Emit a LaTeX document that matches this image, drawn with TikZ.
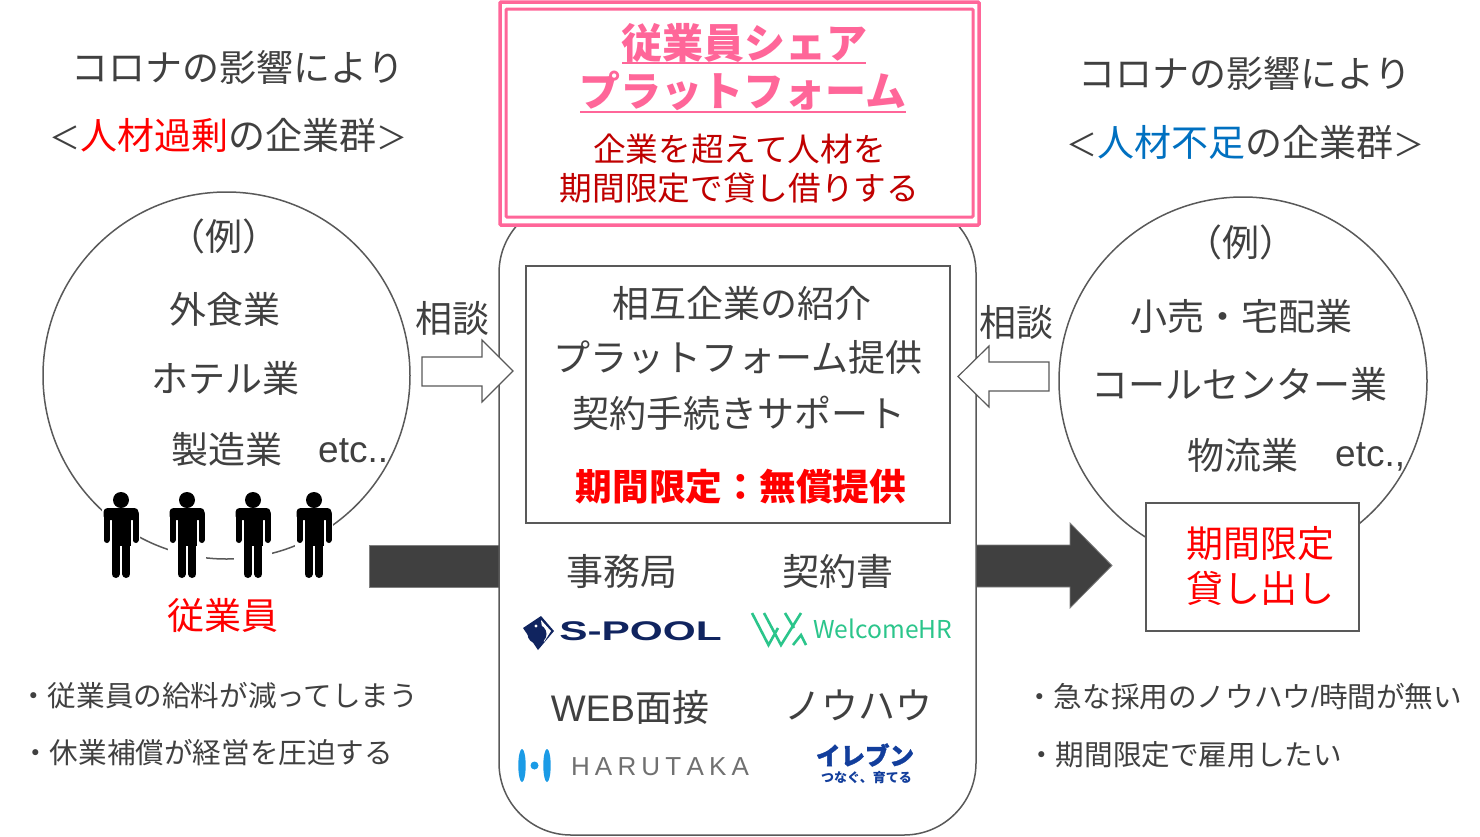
\documentclass[tikz,border=0pt]{standalone}
\usepackage{fontspec}
\setmainfont{Noto Sans CJK JP}
\newfontfamily\latinfont{Liberation Sans}
\usetikzlibrary{calc}
\newcommand{\fullless}{{\fontsize{31}{31}\selectfont\symbol{"FF1C}}}
\newcommand{\fullmore}{{\fontsize{31}{31}\selectfont\symbol{"FF1E}}}
\newcommand{\fullopen}{\symbol{"FF08}}
\newcommand{\fullclose}{\symbol{"FF09}}
\newcommand{\fullcolon}{\symbol{"FF1A}}
\definecolor{darktext}{HTML}{404040}
\definecolor{linegray}{HTML}{595959}
\definecolor{sharepink}{HTML}{FF6699}
\definecolor{darkred}{HTML}{C00000}
\definecolor{shortblue}{HTML}{0070C0}
\definecolor{poolnavy}{HTML}{10245F}
\definecolor{welcomegreen}{HTML}{2BC58B}
\definecolor{harublue}{HTML}{1B9BE6}
\definecolor{elevenblue}{HTML}{123E9C}
\tikzset{
	label36/.style={inner sep=0pt,text=darktext,font=\fontsize{37}{37}\selectfont},
	label33/.style={inner sep=0pt,text=darkred,font=\fontsize{32.7}{32.7}\selectfont},
	label28/.style={inner sep=0pt,anchor=west,text=darktext,font=\fontsize{28.6}{28.6}\selectfont},
	title41/.style={inner sep=0pt,text=sharepink,font=\fontsize{41}{41}\selectfont\bfseries},
	hollowarrow/.style={draw=linegray,fill=white,line width=1.2pt},
	darkarrow/.style={fill=darktext,draw=gray,line width=0.8pt},
	person/.pic={
		\fill [white] (-19,-10) rectangle (19,80);
		\fill [black] (0,0) circle (8);
		\fill [black,rounded corners=4pt] (-17.5,8) rectangle (17.5,20);
		\fill [black] (-9.5,12) rectangle (9.5,46);
		\draw [black,line width=6pt,line cap=round] (-14.5,14) -- (-14.5,40) (14.5,14) -- (14.5,40);
		\draw [black,line width=8pt,line cap=round] (-5.4,40) -- (-5.4,74) (5.4,40) -- (5.4,74);
	}
}
\begin{document}
\begin{tikzpicture}[x=1pt,y=-1pt]
	\useasboundingbox (0,0) rectangle (1480,836);
	% circles
	\draw [linegray,line width=1.5pt] (226.5,375.5) circle (183.5);
	\draw [linegray,line width=1.5pt] (1243,381) circle (184);
	% dark arrows
	\draw [darkarrow] (369,545) -- (510,545) -- (510,587) -- (369,587) -- cycle;
	\draw [darkarrow] (965,545) -- (1070,545) -- (1070,523) -- (1112,565.5) -- (1070,608) -- (1070,587) -- (965,587) -- cycle;
	% platform
	\draw [linegray,fill=white,line width=1.5pt,rounded corners=72pt] (499,201) rectangle (976,835);
	\draw [line width=1.4pt,draw=linegray,fill=white] (526,266) rectangle (950,523);
	\draw [sharepink,fill=white,line width=3.5pt,rounded corners=1pt] (500,2) rectangle (979,225);
	\draw [sharepink,line width=3pt,rounded corners=1pt] (506,9) rectangle (973,217);
	% hollow arrows
	\draw [hollowarrow] (422,357) -- (482,357) -- (482,340) -- (513,371) -- (482,402) -- (482,386) -- (422,386) -- cycle;
	\draw [hollowarrow] (1049,362) -- (989,362) -- (989,346) -- (958,376.5) -- (989,407) -- (989,391) -- (1049,391) -- cycle;
	% persons
	\pic at (121,500) {person};
	\pic at (187,500) {person};
	\pic at (253,500) {person};
	\pic at (314,500) {person};
	% left side
	\node [label36] (leftfirst) at (238,67) {コロナの影響により};
	\node [label36] (leftgroup) at (228,135) {\fullless\textcolor{red}{人材過剰}の企業群\fullmore};
	\node [label36] (leftexample) at (224,236) {\fullopen 例\fullclose};
	\node [label36] (leftfood) at (225,309) {外食業};
	\node [label36] (lefthotel) at (225,378) {ホテル業};
	\node [label36] (leftmake) at (227,449) {製造業};
	\node [label36,anchor=west] (leftetc) at (318,451) {\latinfont etc..};
	\node [label36,text=red] (leftstaff) at (223,615) {従業員};
	\node [label28] (leftnotea) at (19,696) {・従業員の給料が減ってしまう};
	\node [label28] (leftnoteb) at (21,753) {・休業補償が経営を圧迫する};
	\node [label36] (leftsoudan) at (452,318) {相談};
	% right side
	\node [label36] (rightfirst) at (1245,73) {コロナの影響により};
	\node [label36] (rightgroup) at (1245,142) {\fullless\textcolor{shortblue}{人材不足}の企業群\fullmore};
	\node [label36] (rightexample) at (1241,242) {\fullopen 例\fullclose};
	\node [label36] (rightshop) at (1241,316) {小売・宅配業};
	\node [label36] (rightcall) at (1239,384) {コールセンター業};
	\node [label36] (rightflow) at (1243,455) {物流業};
	\node [label36,anchor=west] (rightetc) at (1335,457) {\latinfont etc.,};
	\node [label36] (rightsoudan) at (1016,322) {相談};
	\draw [line width=1.4pt,draw=linegray,fill=white] (1146,503) rectangle (1359,631);
	\node [label36,text=red] (rightlimit) at (1260,544) {期間限定};
	\node [label36,text=red] (rightlend) at (1260,588) {貸し出し};
	\node [label28] (rightnotea) at (1025,697) {・急な採用のノウハウ\latinfont/\normalfont 時間が無い};
	\node [label28] (rightnoteb) at (1027,755) {・期間限定で雇用したい};
	% top box
	\node [title41] (titleone) at (744,43) {従業員シェア};
	\node [title41] (titletwo) at (743,91) {プラットフォーム};
	\draw [sharepink,line width=1.2pt] (622,63) -- (866,63);
	\draw [sharepink,line width=1.2pt] (580,112) -- (906,112);
	\node [label33] (subone) at (739.5,149) {企業を超えて人材を};
	\node [label33] (subtwo) at (739.5,188) {期間限定で貸し借りする};
	% middle box
	\node [label36] (boxone) at (742,303) {相互企業の紹介};
	\node [label36] (boxtwo) at (738,357) {プラットフォーム提供};
	\node [label36] (boxthree) at (739,413) {契約手続きサポート};
	\node [label36,text=red,font=\fontsize{36.7}{36.7}\selectfont\bfseries] (boxfree) at (741,487) {期間限定\fullcolon 無償提供};
	\node [label36] (officelabel) at (622,571) {事務局};
	\node [label36] (contractlabel) at (838,571) {契約書};
	\node [label36] (weblabel) at (630,707) {\latinfont WEB\normalfont 面接};
	\node [label36] (knowlabel) at (858,705) {ノウハウ};
	% S-POOL
	\fill [poolnavy] (523,628) -- (541,616) -- (554,631) -- (538,650) -- (534,644) -- cycle;
	\fill [white] (541,620) -- (551,631) -- (544,642) -- cycle;
	\fill [poolnavy] (537,634) circle (9.5);
	\fill [white] (536,626) circle (1.6);
	\node [inner sep=0pt,anchor=west,text=poolnavy,xscale=1.57,font=\latinfont\fontsize{27}{27}\selectfont\bfseries] (poollogo) at (559,631) {S-POOL};
	% WelcomeHR
	\draw [welcomegreen,line width=2.6pt] (752,613) -- (768.5,645) -- (778,628) (764,613) -- (781,645) -- (801,613) (785,613) -- (794,628) (793,645) -- (801,635) -- (806,645);
	\node [inner sep=0pt,anchor=west,text=welcomegreen,font=\fontsize{24.6}{24.6}\selectfont] (welcomelogo) at (813,629) {WelcomeHR};
	% HARUTAKA
	\fill [harublue] (522,765.5) ellipse (3.7 and 16.5);
	\fill [harublue] (534.5,765.5) circle (4);
	\fill [harublue] (547,765.5) ellipse (3.7 and 16.5);
	\node [inner sep=0pt,text=darktext!75,font=\latinfont\fontsize{26}{26}\selectfont] (harulogo) at (660,766.5) {H\hspace{5.2pt}A\hspace{5.2pt}R\hspace{5.2pt}U\hspace{5.2pt}T\hspace{5.2pt}A\hspace{5.2pt}K\hspace{5.2pt}A};
	% eleven
	\node [inner sep=0pt,text=elevenblue,font=\fontsize{24.5}{24.5}\selectfont\bfseries\addfontfeature{FakeBold=1.5}] (elevenlogo) at (865,755) {イレブン};
	\node [inner sep=0pt,text=elevenblue,font=\fontsize{13}{13}\selectfont\bfseries] (elevensub) at (866.5,778) {つなぐ、育てる};
\end{tikzpicture}
\end{document}
